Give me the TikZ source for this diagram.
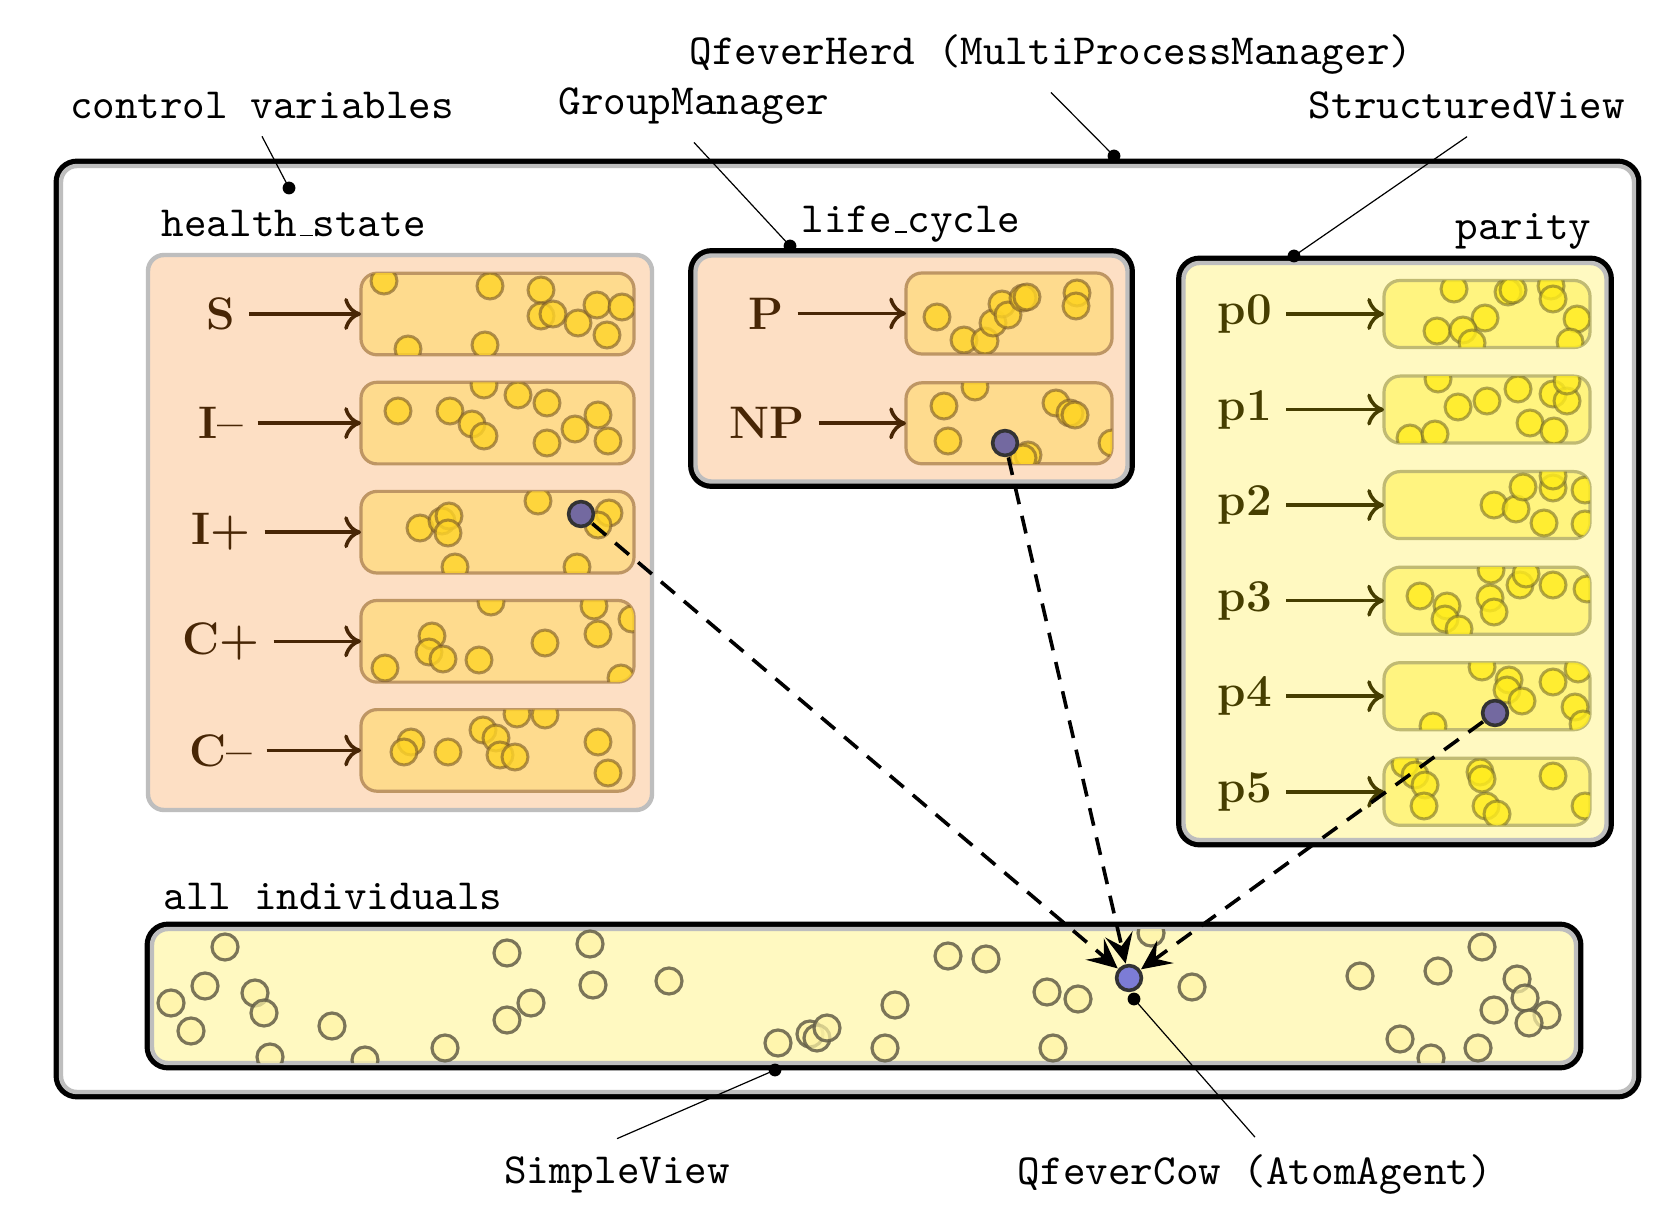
\documentclass[tikz,border=0pt]{standalone}
\usetikzlibrary{arrows.meta}
\definecolor{peach}{RGB}{253,223,196}
\definecolor{hsubfill}{RGB}{254,219,142}
\definecolor{hsubline}{RGB}{190,150,100}
\definecolor{hdot}{RGB}{255,212,40}
\definecolor{hdotline}{RGB}{120,88,40}
\definecolor{pale}{RGB}{255,249,193}
\definecolor{psubfill}{RGB}{255,244,128}
\definecolor{psubline}{RGB}{192,186,115}
\definecolor{pdot}{RGB}{255,236,30}
\definecolor{pdotline}{RGB}{110,100,40}
\definecolor{adot}{RGB}{255,244,165}
\definecolor{adotline}{RGB}{100,95,72}
\definecolor{agentblue}{RGB}{124,124,214}
\definecolor{agentdim}{RGB}{115,105,160}
\definecolor{hbrown}{RGB}{72,38,5}
\definecolor{polive}{RGB}{70,62,0}
\definecolor{rimgrey}{RGB}{190,190,190}
\newcommand\usc{\kern.06em\vbox{\hrule width.3em}}
\tikzset{%
  view/.style={draw=rimgrey,line width=1.1pt,rounded corners=4pt,inner sep=0pt,outer sep=0pt},%
  marked/.style={preaction={draw=black,line width=3.7pt}},%
  hset/.style={draw=hsubline,fill=hsubfill,line width=0.8pt,rounded corners=4pt,inner sep=0pt,outer sep=0pt,minimum width=68.25pt,minimum height=20.4pt},%
  lset/.style={hset,minimum width=51.5pt,minimum height=20.25pt},%
  pset/.style={draw=psubline,fill=psubfill,line width=0.8pt,rounded corners=4pt,inner sep=0pt,outer sep=0pt,minimum width=51.5pt,minimum height=16.75pt},%
  hball/.style={fill=hdot,draw=hdotline,line width=0.75pt,fill opacity=0.8,draw opacity=0.6},%
  pball/.style={fill=pdot,draw=pdotline,line width=0.75pt,fill opacity=0.8,draw opacity=0.55},%
  aball/.style={fill=adot,draw=adotline,line width=0.8pt,fill opacity=0.7,draw opacity=0.85},%
  agent/.style={circle,draw=black!80,line width=0.9pt,fill=agentblue,minimum size=6.2pt,inner sep=0pt,outer sep=0.6pt},%
  dimagent/.style={agent,fill=agentdim},%
  hname/.style={font=\fontsize{11.4}{13}\selectfont\bfseries,text=hbrown},%
  pname/.style={font=\fontsize{11.4}{13}\selectfont\bfseries,text=polive},%
  hlink/.style={draw=hbrown,line width=0.9pt,-{To[length=4.2pt,width=8pt]}},%
  plink/.style={hlink,draw=polive},%
  tag/.style={font=\fontsize{10.75}{12}\selectfont\ttfamily,inner sep=4.2pt},%
  title/.style={font=\fontsize{10.75}{12}\selectfont\ttfamily,inner sep=0pt},%
  flow/.style={line width=0.9pt,dash pattern=on 4.5pt off 3pt,-{Stealth[length=7.5pt,width=7pt,inset=3pt]}},%
  pointer/.style={line width=0.3pt},%
}
\begin{document}
\begin{tikzpicture}[x=0.25pt,y=-0.25pt]%
\useasboundingbox (0,0) rectangle (1678,1207);%
%
\node[view,marked,fill=white,minimum width=393.25pt,minimum height=231.5pt] (herd) at (847.5,629) {};%
\node[view,fill=peach,minimum width=126pt,minimum height=138.75pt] (health) at (400,532.5) {};%
\node[view,marked,fill=peach,minimum width=108pt,minimum height=56.5pt] (life) at (911.5,368.5) {};%
\node[view,marked,fill=pale,minimum width=105.75pt,minimum height=144.25pt] (parity) at (1395,551.5) {};%
\node[view,marked,fill=pale,minimum width=356pt,minimum height=33.5pt] (all) at (864,996) {};%
%
\node[title,anchor=base west] (tHealth) at (161,236.5) {health\usc state};%
\node[title,anchor=base] (tLife) at (911,232.7) {life\usc cycle};%
\node[title,anchor=base east] (tParity) at (1592,240) {parity};%
\node[title,anchor=base west] (tAll) at (163,909.7) {all individuals};%
%
% health_state
\node[hset] (sS) at (497.5,314) {};%
\begin{scope}\clip[rounded corners=4pt] (sS.south west) rectangle (sS.north east);%
\foreach \x/\y in {384/281,490/286,541/290,541/316,553/314,578/323,597/305,622/307,607/335,408/349,485/345}%
  \filldraw[hball] (\x,\y) circle (3.25pt);%
\end{scope}%
\node[hname] (nS) at (221,314) {S};%
\draw[hlink] (nS) -- (sS);%
%
\node[hset] (sIm) at (497.5,423.1) {};%
\begin{scope}\clip[rounded corners=4pt] (sIm.south west) rectangle (sIm.north east);%
\foreach \x/\y in {398/411,450/411,472/424,484/436,484/385,518/395,547/403,598/415,575/429,547/443,608/441}%
  \filldraw[hball] (\x,\y) circle (3.25pt);%
\end{scope}%
\node[hname] (nIm) at (221,423.1) {I\textendash};%
\draw[hlink] (nIm) -- (sIm);%
%
\node[hset] (sIp) at (497.5,532.2) {};%
\begin{scope}\clip[rounded corners=4pt] (sIp.south west) rectangle (sIp.north east);%
\foreach \x/\y in {420/528,442/521,449/516,448/533,538/501,609/513,598/525,455/567,577/567}%
  \filldraw[hball] (\x,\y) circle (3.25pt);%
\end{scope}%
\node[hname] (nIp) at (221,532.2) {I+};%
\draw[hlink] (nIp) -- (sIp);%
%
\node[hset] (sCp) at (497.5,641.3) {};%
\begin{scope}\clip[rounded corners=4pt] (sCp.south west) rectangle (sCp.north east);%
\foreach \x/\y in {491/602,594/606,632/619,432/636,429/652,443/659,479/660,545/643,598/634,385/668,621/678}%
  \filldraw[hball] (\x,\y) circle (3.25pt);%
\end{scope}%
\node[hname] (nCp) at (221,641.3) {C+};%
\draw[hlink] (nCp) -- (sCp);%
%
\node[hset] (sCm) at (497.5,750.4) {};%
\begin{scope}\clip[rounded corners=4pt] (sCm.south west) rectangle (sCm.north east);%
\foreach \x/\y in {517/714,545/715,411/742,404/752,448/752,483/730,496/738,500/755,515/757,598/742,608/773}%
  \filldraw[hball] (\x,\y) circle (3.25pt);%
\end{scope}%
\node[hname] (nCm) at (221,750.4) {C\textendash};%
\draw[hlink] (nCm) -- (sCm);%
%
% life_cycle
\node[lset] (sP) at (1009,313.5) {};%
\begin{scope}\clip[rounded corners=4pt] (sP.south west) rectangle (sP.north east);%
\foreach \x/\y in {937/317,964/340,985/341,993/323,1002/304,1008/315,1023/298,1027/297,1077/293,1076/306}%
  \filldraw[hball] (\x,\y) circle (3.25pt);%
\end{scope}%
\node[hname] (nP) at (766,313.5) {P};%
\draw[hlink] (nP) -- (sP);%
%
\node[lset] (sNP) at (1009,423.3) {};%
\begin{scope}\clip[rounded corners=4pt] (sNP.south west) rectangle (sNP.north east);%
\foreach \x/\y in {975/387,944/406,948/441,1056/403,1070/413,1075/415,1028/455,1023/458,1112/443}%
  \filldraw[hball] (\x,\y) circle (3.25pt);%
\end{scope}%
\node[hname] (nNP) at (767,423.3) {NP};%
\draw[hlink] (nNP) -- (sNP);%
%
% parity
\node[pset] (s0) at (1487,314) {};%
\begin{scope}\clip[rounded corners=4pt] (s0.south west) rectangle (s0.north east);%
\foreach \x/\y in {1454/289,1508/292,1513/290,1551/286,1553/299,1577/319,1485/318,1437/331,1463/330,1472/343,1570/342}%
  \filldraw[pball] (\x,\y) circle (3.25pt);%
\end{scope}%
\node[pname] (n0) at (1245,314) {p0};%
\draw[plink] (n0) -- (s0);%
%
\node[pset] (s1) at (1487,409.6) {};%
\begin{scope}\clip[rounded corners=4pt] (s1.south west) rectangle (s1.north east);%
\foreach \x/\y in {1438/379,1458/407,1487/401,1518/389,1553/394,1567/401,1567/381,1530/423,1554/431,1410/438,1435/434}%
  \filldraw[pball] (\x,\y) circle (3.25pt);%
\end{scope}%
\node[pname] (n1) at (1245,409.6) {p1};%
\draw[plink] (n1) -- (s1);%
%
\node[pset] (s2) at (1487,505.1) {};%
\begin{scope}\clip[rounded corners=4pt] (s2.south west) rectangle (s2.north east);%
\foreach \x/\y in {1494/505,1516/509,1523/487,1553/488,1553/476,1585/490,1544/523,1585/524}%
  \filldraw[pball] (\x,\y) circle (3.25pt);%
\end{scope}%
\node[pname] (n2) at (1245,505.1) {p2};%
\draw[plink] (n2) -- (s2);%
%
\node[pset] (s3) at (1487,600.7) {};%
\begin{scope}\clip[rounded corners=4pt] (s3.south west) rectangle (s3.north east);%
\foreach \x/\y in {1420/596,1447/606,1445/619,1459/629,1490/598,1494/612,1491/570,1520/585,1526/574,1553/585,1587/589}%
  \filldraw[pball] (\x,\y) circle (3.25pt);%
\end{scope}%
\node[pname] (n3) at (1245,600.7) {p3};%
\draw[plink] (n3) -- (s3);%
%
\node[pset] (s4) at (1487,696.2) {};%
\begin{scope}\clip[rounded corners=4pt] (s4.south west) rectangle (s4.north east);%
\foreach \x/\y in {1482/667,1509/680,1507/690,1522/701,1553/682,1578/669,1575/707,1433/726,1583/724}%
  \filldraw[pball] (\x,\y) circle (3.25pt);%
\end{scope}%
\node[pname] (n4) at (1245,696.2) {p4};%
\draw[plink] (n4) -- (s4);%
%
\node[pset] (s5) at (1487,791.8) {};%
\begin{scope}\clip[rounded corners=4pt] (s5.south west) rectangle (s5.north east);%
\foreach \x/\y in {1405/764,1415/775,1425/785,1424/806,1480/772,1482/779,1486/806,1497/814,1553/776,1585/806}%
  \filldraw[pball] (\x,\y) circle (3.25pt);%
\end{scope}%
\node[pname] (n5) at (1245,791.8) {p5};%
\draw[plink] (n5) -- (s5);%
%
% all individuals
\begin{scope}\clip[rounded corners=4pt] (all.south west) rectangle (all.north east);%
\foreach \x/\y in {225/947,205/986,171/1003,191/1031,255/993,264/1013,270/1057,332/1026,365/1060,445/1048,507/953,531/1003,507/1020,590/944,593/985,669/981,778/1043,810/1034,817/1038,827/1028,885/1048,948/956,986/959,895/1005,1047/992,1078/999,1053/1048,1151/933,1192/987,1360/976,1438/971,1482/947,1517/979,1525/998,1494/1010,1547/1015,1529/1023,1400/1039,1431/1058,1478/1048}%
  \filldraw[aball] (\x,\y) circle (3.25pt);%
\end{scope}%
%
\node[dimagent] (aHealth) at (581,514) {};%
\node[dimagent] (aLife) at (1005,443) {};%
\node[dimagent] (aParity) at (1495,713) {};%
\node[agent] (aCow) at (1129,978) {};%
\draw[flow] (aHealth) -- (aCow);%
\draw[flow] (aLife) -- (aCow);%
\draw[flow] (aParity) -- (aCow);%
%
% pointers
\node[tag,anchor=base] (tCtrl) at (262,118.5) {control variables};%
\node[tag,anchor=base] (tGroup) at (694,115) {GroupManager};%
\node[tag,anchor=base] (tHerd) at (1051,65) {QfeverHerd (MultiProcessManager)};%
\node[tag,anchor=base] (tStruct) at (1467,118.6) {StructuredView};%
\node[tag,anchor=base] (tSimple) at (617,1183) {SimpleView};%
\node[tag,anchor=base] (tCow) at (1255,1184.6) {QfeverCow (AtomAgent)};%
\coordinate (dCtrl) at (289,188);%
\coordinate (dGroup) at (790,246);%
\coordinate (dHerd) at (1114,156);%
\coordinate (dStruct) at (1294,256);%
\coordinate (dSimple) at (775,1070);%
\coordinate (dCow) at (1134,999);%
\draw[pointer] (tCtrl.south) -- (dCtrl);%
\draw[pointer] (tGroup.south) -- (dGroup);%
\draw[pointer] (tHerd.south) -- (dHerd);%
\draw[pointer] (tStruct.south) -- (dStruct);%
\draw[pointer] (tSimple.north) -- (dSimple);%
\draw[pointer] (tCow.north) -- (dCow);%
\foreach \d in {dCtrl,dGroup,dHerd,dStruct,dSimple,dCow}%
  \fill (\d) circle (1.6pt);%
\end{tikzpicture}
\end{document}
